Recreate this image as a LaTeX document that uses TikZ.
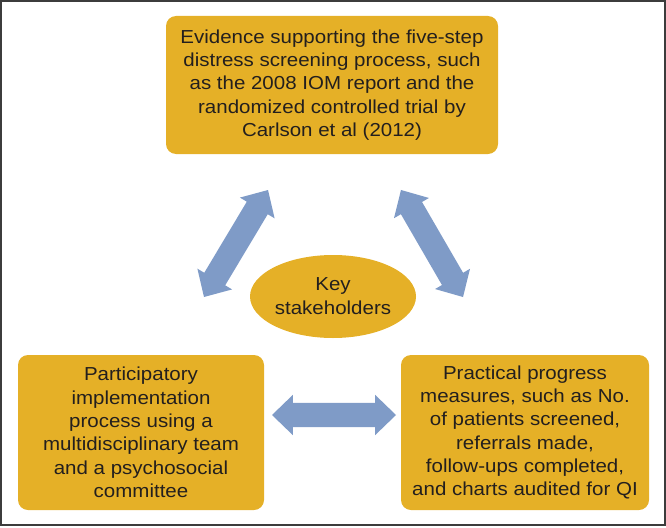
\documentclass[tikz,border=0pt]{standalone}
\usepackage{fontspec}
\setmainfont{Liberation Sans}[FakeStretch=1.09]
\usetikzlibrary{shapes.geometric,shapes.arrows}
\definecolor{boxgold}{HTML}{E5B027}
\definecolor{arrowblue}{HTML}{7F9BC7}
\definecolor{txtdark}{HTML}{231F1E}
\definecolor{framegray}{HTML}{3C3C3C}
\tikzset{
  infobox/.style={fill=boxgold, draw=none, rounded corners=10pt, align=center,
    text=txtdark, font=\fontsize{18.8}{23.3}\selectfont, inner sep=0pt},
  centreoval/.style={ellipse, fill=boxgold, draw=none, align=center, text=txtdark,
    font=\fontsize{18.8}{24}\selectfont, inner sep=0pt},
  blockarrow/.style={double arrow, fill=arrowblue, draw=none, inner xsep=0pt,
    inner ysep=12pt, double arrow head extend=8pt, double arrow tip angle=88,
    minimum width=0pt}
}
\begin{document}
\begin{tikzpicture}[x=1pt,y=-1pt]
\useasboundingbox (0,0) rectangle (666,527);
\draw[framegray, line width=2pt] (1,1) rectangle (665,525);

\node[infobox, minimum width=332pt, minimum height=138pt] (top) at (332,85)
  {Evidence supporting the five-step\\distress screening process, such\\as the 2008 IOM report and the\\randomized controlled trial by\\Carlson et al (2012)};
\node[infobox, minimum width=246pt, minimum height=155pt] (left) at (141,432.5)
  {Participatory\\implementation\\process using a\\multidisciplinary team\\and a psychosocial\\committee};
\node[infobox, minimum width=248pt, minimum height=155pt] (right) at (525,432.5)
  {Practical progress\\measures, such as No.\\of patients screened,\\referrals made,\\follow-ups completed,\\and charts audited for QI};
\node[centreoval, minimum width=166pt, minimum height=83pt] (key) at (333,296.5)
  {Key\\stakeholders};

\node[blockarrow, minimum height=124.7pt, rotate=59.1] (arrowL) at (236,243.5) {};
\node[blockarrow, minimum height=123.7pt, rotate=-59.9] (arrowR) at (432,243.5) {};
\node[blockarrow, minimum height=124pt] (arrowB) at (334,415) {};
\end{tikzpicture}
\end{document}
